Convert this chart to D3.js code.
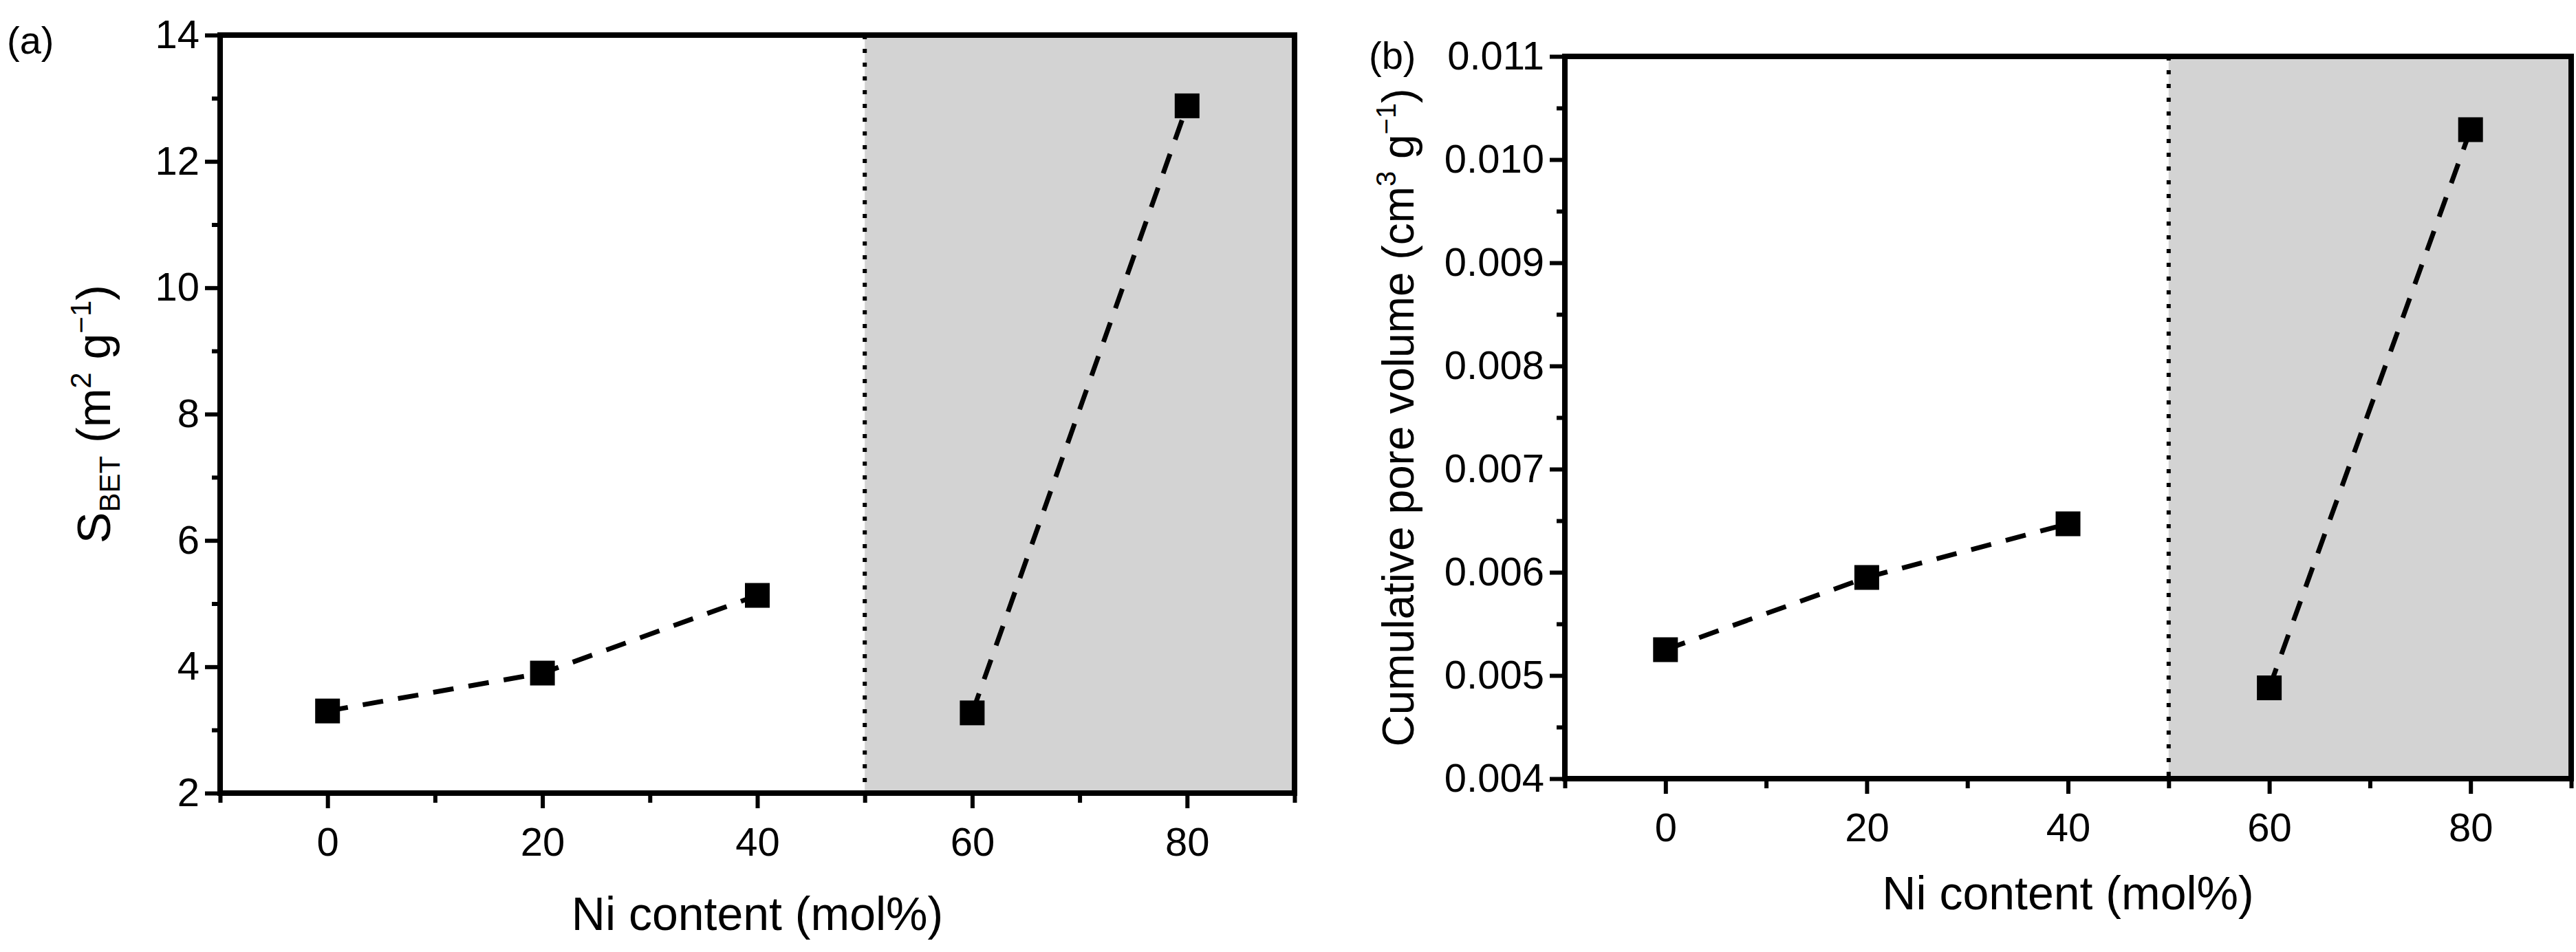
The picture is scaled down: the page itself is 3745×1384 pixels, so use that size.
<!DOCTYPE html>
<html>
<head>
<meta charset="utf-8">
<script src="https://cdn.jsdelivr.net/npm/d3@7"></script>
<style>
  body { margin: 0; background: #fff; }
  text { font-family: "Liberation Sans", Arial, sans-serif; fill: #000; }
</style>
</head>
<body>
<svg id="chart" width="3745" height="1384"></svg>
<script>
// data
var niContent = [ 0, 20, 40, 60, 80 ];
var sBet = [ 3.30, 3.90, 5.13, 3.27, 12.88 ];
var poreVolume = [ 0.00525, 0.00595, 0.00647, 0.00488, 0.01029 ];
var groups = [ [ 0, 1, 2 ], [ 3, 4 ] ];
var xTicks = [ 0, 20, 40, 60, 80 ];
var aTicks = [ 2, 4, 6, 8, 10, 12, 14 ];
var bTicks = [ 0.004, 0.005, 0.006, 0.007, 0.008, 0.009, 0.010, 0.011 ];

var svg = d3.select( "#chart" );

function panel( box, values, yDomain, yTicks, yMinor, yFmt, tag )
{
    var x = d3.scaleLinear().domain( [ -10, 90 ] ).range( [ box.left, box.right ] );
    var y = d3.scaleLinear().domain( yDomain ).range( [ box.bottom, box.top ] );
    var g = svg.append( "g" );

    // grey region past 50 mol%
    g.append( "rect" )
        .attr( "x", x( 50 ) ).attr( "y", y( yDomain[1] ) )
        .attr( "width", x( 90 ) - x( 50 ) ).attr( "height", y( yDomain[0] ) - y( yDomain[1] ) )
        .attr( "fill", "#d3d3d3" );

    // dotted divider
    g.append( "line" )
        .attr( "x1", x( 50 ) ).attr( "x2", x( 50 ) )
        .attr( "y1", y( yDomain[1] ) ).attr( "y2", y( yDomain[0] ) )
        .attr( "stroke", "#000" ).attr( "stroke-width", 6 )
        .attr( "stroke-dasharray", "6,14" );

    // dashed fits
    var line = d3.line().x( function( i ) { return x( niContent[ i ] ); } )
                        .y( function( i ) { return y( values[ i ] ); } );
    groups.forEach( function( grp ) {
        g.append( "path" ).attr( "d", line( grp ) )
            .attr( "fill", "none" ).attr( "stroke", "#000" )
            .attr( "stroke-width", 7 ).attr( "stroke-dasharray", "30,22" );
    });

    // markers
    g.selectAll( "rect.pt" ).data( niContent ).enter().append( "rect" )
        .attr( "class", "pt" )
        .attr( "x", function( d ) { return x( d ) - 18; } )
        .attr( "y", function( d, i ) { return y( values[ i ] ) - 18; } )
        .attr( "width", 36 ).attr( "height", 36 )
        .attr( "fill", "#000" );

    // axes
    var xa = g.append( "g" ).attr( "transform", "translate(0," + box.bottom + ")" )
        .call( d3.axisBottom( x ).tickValues( xTicks ).tickSize( 22 ).tickPadding( 28 ) );
    g.append( "g" ).attr( "transform", "translate(0," + box.bottom + ")" )
        .call( d3.axisBottom( x ).tickValues( [ -10, 10, 30, 50, 70, 90 ] ).tickSize( 14 ).tickFormat( "" ) );
    g.append( "g" ).attr( "transform", "translate(" + box.left + ",0)" )
        .call( d3.axisLeft( y ).tickValues( yTicks ).tickSize( 22 ).tickPadding( 8 ).tickFormat( yFmt ) );
    g.append( "g" ).attr( "transform", "translate(" + box.left + ",0)" )
        .call( d3.axisLeft( y ).tickValues( yMinor ).tickSize( 12 ).tickFormat( "" ) );
    g.selectAll( ".domain" ).remove();
    g.selectAll( ".tick line" ).attr( "stroke-width", 6 );
    g.selectAll( ".tick text" ).style( "font-size", "58px" ).style( "font-family", "Liberation Sans, Arial, sans-serif" );

    // frame
    g.append( "rect" )
        .attr( "x", box.left ).attr( "y", box.top )
        .attr( "width", box.right - box.left ).attr( "height", box.bottom - box.top )
        .attr( "fill", "none" ).attr( "stroke", "#000" ).attr( "stroke-width", 8 );

    // x title
    g.append( "text" )
        .attr( "x", ( box.left + box.right ) / 2 ).attr( "y", box.titleY )
        .attr( "text-anchor", "middle" ).style( "font-size", "68px" )
        .text( "Ni content (mol%)" );
    return { x: x, y: y, g: g };
}

var a = panel( { left: 320, right: 1882, top: 51, bottom: 1153, titleY: 1352 },
    sBet, [ 2, 14 ], aTicks, [ 3, 5, 7, 9, 11, 13 ], d3.format( "d" ), "(a)" );
var b = panel( { left: 2275, right: 3738, top: 82, bottom: 1132, titleY: 1322 },
    poreVolume, [ 0.004, 0.011 ], bTicks,
    [ 0.0045, 0.0055, 0.0065, 0.0075, 0.0085, 0.0095, 0.0105 ], d3.format( ".3f" ), "(b)" );

// y titles
var ta = svg.append( "text" )
    .attr( "transform", "translate(160," + ( 51 + 1153 ) / 2 + ") rotate(-90)" )
    .attr( "text-anchor", "middle" ).style( "font-size", "68px" );
ta.append( "tspan" ).text( "S" );
ta.append( "tspan" ).attr( "dy", 14 ).style( "font-size", "42px" ).text( "BET" );
ta.append( "tspan" ).attr( "dy", -14 ).text( " (m" );
ta.append( "tspan" ).attr( "dy", -28 ).style( "font-size", "42px" ).text( "2" );
ta.append( "tspan" ).attr( "dy", 28 ).text( " g" );
ta.append( "tspan" ).attr( "dy", -28 ).style( "font-size", "42px" ).text( "\u22121" );
ta.append( "tspan" ).attr( "dy", 28 ).text( ")" );

var tb = svg.append( "text" )
    .attr( "transform", "translate(2055," + ( 82 + 1132 ) / 2 + ") rotate(-90)" )
    .attr( "text-anchor", "middle" ).style( "font-size", "64px" );
tb.append( "tspan" ).text( "Cumulative pore volume (cm" );
tb.append( "tspan" ).attr( "dy", -26 ).style( "font-size", "40px" ).text( "3" );
tb.append( "tspan" ).attr( "dy", 26 ).text( " g" );
tb.append( "tspan" ).attr( "dy", -26 ).style( "font-size", "40px" ).text( "\u22121" );
tb.append( "tspan" ).attr( "dy", 26 ).text( ")" );

// panel tags
svg.append( "text" ).attr( "x", 10 ).attr( "y", 78 ).style( "font-size", "56px" ).text( "(a)" );
svg.append( "text" ).attr( "x", 1990 ).attr( "y", 100 ).style( "font-size", "56px" ).text( "(b)" );
</script>
</body>
</html>
